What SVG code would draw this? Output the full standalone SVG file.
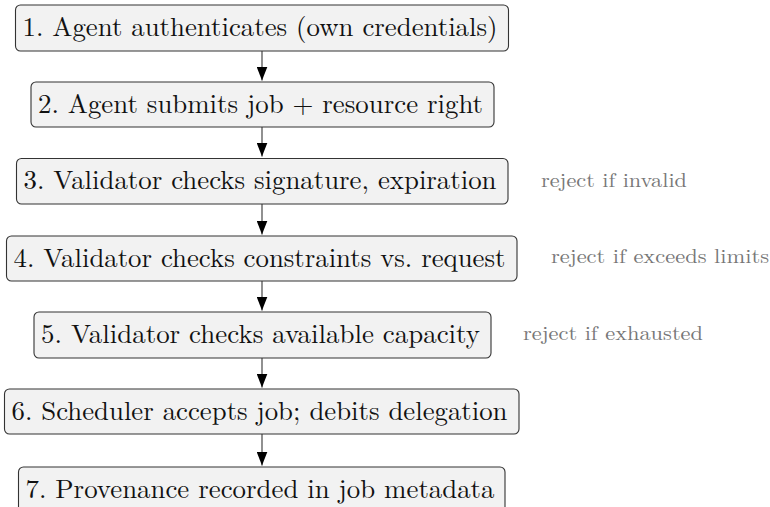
<svg xmlns="http://www.w3.org/2000/svg" width="770" height="507" viewBox="0 0 770 507">
<style>
.box{fill:#f2f2f2;stroke:#333;stroke-width:1.1}
.t{font-family:'Latin Modern Roman','Liberation Serif',serif;font-size:26.5px;fill:#111}
.s{font-family:'Latin Modern Roman','Liberation Serif',serif;font-size:19.5px;fill:#777}
.c{stroke:#555;stroke-width:1.3;fill:none;marker-end:url(#ah)}
</style>
<defs>
<marker id="ah" viewBox="0 0 14 11" refX="14" refY="5.5" markerWidth="14" markerHeight="11" markerUnits="userSpaceOnUse" orient="auto">
<path d="M0,0 L14,5.5 L0,11 Z" fill="#000"/>
</marker>
</defs>
<rect width="770" height="507" fill="#fff"/>
<g id="connectors">
<line class="c" x1="262" y1="51" x2="262" y2="80.5"/>
<line class="c" x1="262" y1="127" x2="262" y2="156.5"/>
<line class="c" x1="262" y1="204" x2="262" y2="234.5"/>
<line class="c" x1="262" y1="281" x2="262" y2="310.5"/>
<line class="c" x1="262" y1="358" x2="262" y2="387.5"/>
<line class="c" x1="262" y1="434" x2="262" y2="465.5"/>
</g>
<g id="n1"><rect class="box" x="15.5" y="5" width="493" height="46" rx="5"/><text class="t" x="22.5" y="35.5" textLength="475" lengthAdjust="spacingAndGlyphs">1. Agent authenticates (own credentials)</text></g>
<g id="n2"><rect class="box" x="31" y="82" width="463" height="45" rx="5"/><text class="t" x="38" y="112.5" textLength="445" lengthAdjust="spacingAndGlyphs">2. Agent submits job + resource right</text></g>
<g id="n3"><rect class="box" x="16.5" y="158.5" width="491.5" height="45.5" rx="5"/><text class="t" x="23.5" y="189" textLength="473" lengthAdjust="spacingAndGlyphs">3. Validator checks signature, expiration</text></g>
<g id="n4"><rect class="box" x="6.5" y="236" width="510.5" height="45" rx="5"/><text class="t" x="13.5" y="266.5" textLength="492" lengthAdjust="spacingAndGlyphs">4. Validator checks constraints vs. request</text></g>
<g id="n5"><rect class="box" x="34" y="312" width="457" height="46" rx="5"/><text class="t" x="41" y="342.5" textLength="439" lengthAdjust="spacingAndGlyphs">5. Validator checks available capacity</text></g>
<g id="n6"><rect class="box" x="4.5" y="389" width="514.5" height="45" rx="5"/><text class="t" x="11.5" y="419.5" textLength="496" lengthAdjust="spacingAndGlyphs">6. Scheduler accepts job; debits delegation</text></g>
<g id="n7"><rect class="box" x="18.5" y="467" width="486.5" height="45" rx="5"/><text class="t" x="25.5" y="497.5" textLength="469" lengthAdjust="spacingAndGlyphs">7. Provenance recorded in job metadata</text></g>
<g id="labels">
<text class="s" x="541" y="186.5" textLength="146" lengthAdjust="spacingAndGlyphs">reject if invalid</text>
<text class="s" x="551" y="263" textLength="218" lengthAdjust="spacingAndGlyphs">reject if exceeds limits</text>
<text class="s" x="523" y="340" textLength="180" lengthAdjust="spacingAndGlyphs">reject if exhausted</text>
</g>
</svg>
